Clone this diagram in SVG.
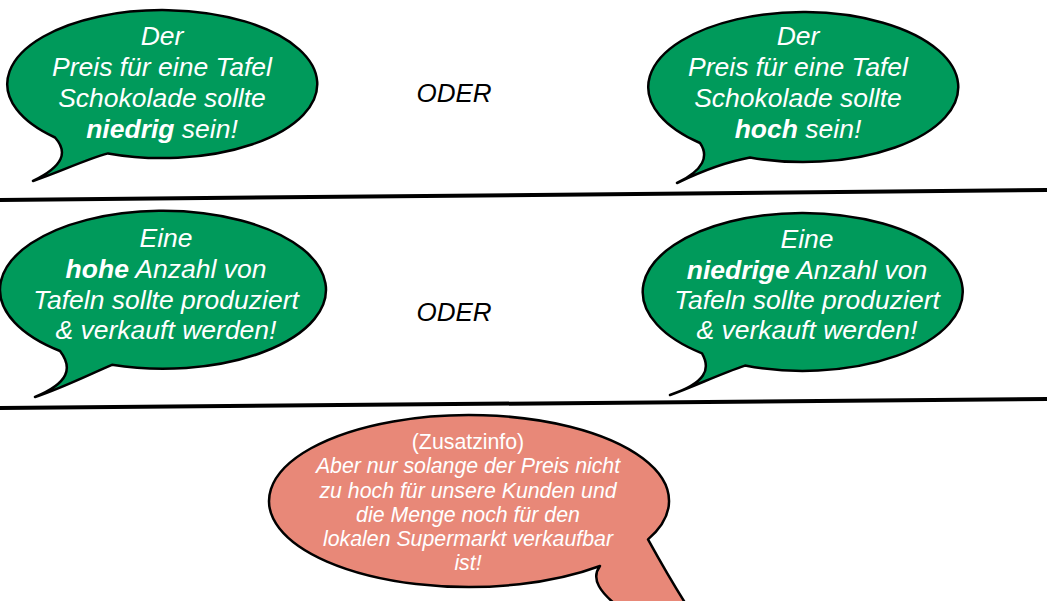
<svg xmlns="http://www.w3.org/2000/svg" width="1047" height="601" viewBox="0 0 1047 601">
<style>
.g{fill:#009A5B;stroke:#000;stroke-width:2.5;stroke-linejoin:round}
.s{fill:#E88878;stroke:#000;stroke-width:2.5;stroke-linejoin:round}
.t{font-family:"Liberation Sans",Arial,sans-serif;font-style:italic;fill:#fff;text-anchor:middle;font-size:26.5px}
.z{font-family:"Liberation Sans",Arial,sans-serif;font-style:italic;fill:#fff;text-anchor:middle;font-size:21.3px}
.b{font-weight:bold}
.o{font-family:"Liberation Sans",Arial,sans-serif;font-style:italic;fill:#000;text-anchor:middle;font-size:26px}
.d{stroke:#000;stroke-width:4;fill:none}
</style>
<rect width="1047" height="601" fill="#fff"/>
<g id="connectors">
<line class="d" x1="0" y1="200" x2="1047" y2="190"/>
<line class="d" x1="0" y1="408" x2="1047" y2="399"/>
</g>
<g id="bubble-preis-niedrig">
<path class="g" d="M55,137.5 C68,152 64,166 33,181 C60,172 84,160 108,153.4 A155 74 0 1 0 55,137.5 Z"/>
<text class="t" x="162" y="45">Der</text>
<text class="t" x="162" y="76">Preis für eine Tafel</text>
<text class="t" x="162" y="107">Schokolade sollte</text>
<text class="t" x="162" y="138"><tspan class="b">niedrig</tspan> sein!</text>
</g>
<g id="oder-1"><text class="o" x="454" y="102">ODER</text></g>
<g id="bubble-preis-hoch">
<path class="g" d="M700,143 C709,156 704,170 677,183 C700,172 725,162 750,157.5 A155 75 0 1 0 700,143 Z"/>
<text class="t" x="798" y="45">Der</text>
<text class="t" x="798" y="76">Preis für eine Tafel</text>
<text class="t" x="798" y="107">Schokolade sollte</text>
<text class="t" x="798" y="138"><tspan class="b">hoch</tspan> sein!</text>
</g>
<g id="bubble-anzahl-hoch">
<path class="g" d="M60,351 C73,368 69,383 35,397 C62,388 88,375 112,364.8 A163 79 0 1 0 60,351 Z"/>
<text class="t" x="166" y="247">Eine</text>
<text class="t" x="166" y="278"><tspan class="b">hohe</tspan> Anzahl von</text>
<text class="t" x="166" y="309">Tafeln sollte produziert</text>
<text class="t" x="166" y="339">&amp; verkauft werden!</text>
</g>
<g id="oder-2"><text class="o" x="454" y="321">ODER</text></g>
<g id="bubble-anzahl-niedrig">
<path class="g" d="M702,353.3 C711,369 706,383 670,395 C695,386 720,374 745,365.6 A160 79 0 1 0 702,353.3 Z"/>
<text class="t" x="807" y="248">Eine</text>
<text class="t" x="807" y="279"><tspan class="b">niedrige</tspan> Anzahl von</text>
<text class="t" x="807" y="309">Tafeln sollte produziert</text>
<text class="t" x="807" y="339">&amp; verkauft werden!</text>
</g>
<g id="bubble-zusatzinfo">
<path class="s" d="M648,539.4 A200 86 0 1 0 600,566 C591,578 597,592 628,614 L700,625 C682,600 666,572 648,539.4 Z"/>
<text class="z" x="468" y="449" style="font-style:normal">(Zusatzinfo)</text>
<text class="z" x="468" y="473">Aber nur solange der Preis nicht</text>
<text class="z" x="468" y="497.5">zu hoch für unsere Kunden und</text>
<text class="z" x="468" y="521.5">die Menge noch für den</text>
<text class="z" x="468" y="546">lokalen Supermarkt verkaufbar</text>
<text class="z" x="468" y="570">ist!</text>
</g>
</svg>
